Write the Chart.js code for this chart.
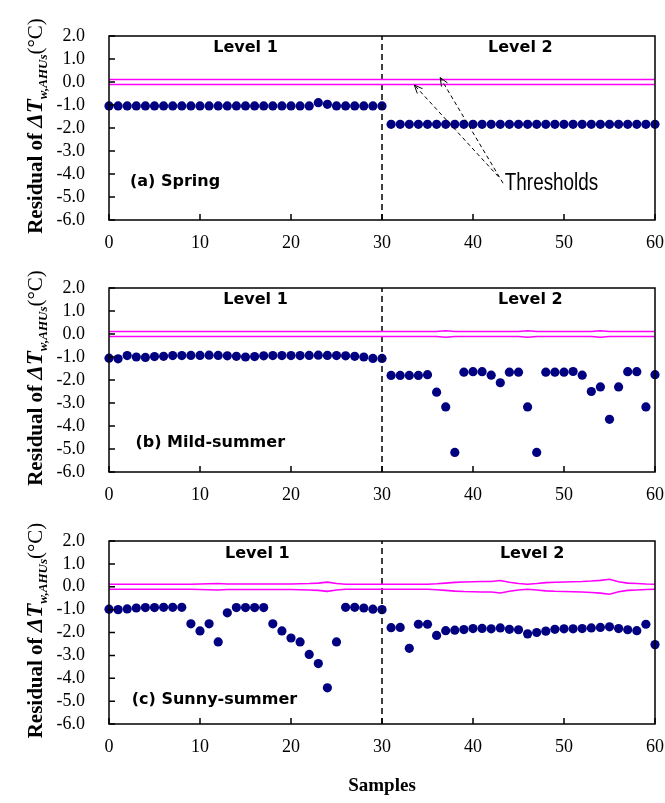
<!DOCTYPE html>
<html>
<head>
<meta charset="utf-8">
<script src="https://cdn.jsdelivr.net/npm/chart.js@4.4.1/dist/chart.umd.min.js"></script>
<style>
  body { margin: 0; background: #fff; }
  canvas { display: block; }
</style>
</head>
<body>
<canvas id="c1" width="665" height="252"></canvas>
<canvas id="c2" width="665" height="252"></canvas>
<canvas id="c3" width="665" height="299"></canvas>
<script>
/* residual panels */

const xTicks = [0, 10, 20, 30, 40, 50, 60];
const yTicks = [2, 1, 0, -1, -2, -3, -4, -5, -6];
const levelNames = ['Level 1', 'Level 2'];
const levelBoundary = 30;
const panelNames = ['(a) Spring', '(b) Mild-summer', '(c) Sunny-summer'];
const calloutText = 'Thresholds';

// residuals, samples 0..60
const springResidual = [
  -1.04, -1.04, -1.04, -1.04, -1.04, -1.04, -1.04, -1.04, -1.04, -1.04,
  -1.04, -1.04, -1.04, -1.04, -1.04, -1.04, -1.04, -1.04, -1.04, -1.04,
  -1.04, -1.04, -1.04, -0.90, -0.97, -1.04, -1.04, -1.04, -1.04, -1.04,
  -1.04,
  -1.84, -1.84, -1.84, -1.84, -1.84, -1.84, -1.84, -1.84, -1.84, -1.84,
  -1.84, -1.84, -1.84, -1.84, -1.84, -1.84, -1.84, -1.84, -1.84, -1.84,
  -1.84, -1.84, -1.84, -1.84, -1.84, -1.84, -1.84, -1.84, -1.84, -1.84
];
const mildResidual = [
  -1.05, -1.08, -0.94, -1.00, -1.02, -0.98, -0.97, -0.94, -0.94, -0.93,
  -0.93, -0.92, -0.93, -0.95, -0.97, -1.00, -0.98, -0.95, -0.94, -0.94,
  -0.94, -0.94, -0.93, -0.92, -0.93, -0.94, -0.95, -0.97, -1.00, -1.06,
  -1.06,
  -1.80, -1.80, -1.80, -1.80, -1.77, -2.53, -3.17, -5.15, -1.66, -1.64,
  -1.64, -1.79, -2.12, -1.66, -1.66, -3.17, -5.15, -1.66, -1.66, -1.66,
  -1.63, -1.79, -2.50, -2.30, -3.71, -2.30, -1.64, -1.64, -3.17, -1.77
];
const sunnyResidual = [
  -0.98, -1.00, -0.97, -0.93, -0.91, -0.91, -0.90, -0.90, -0.90, -1.62,
  -1.93, -1.62, -2.41, -1.14, -0.91, -0.91, -0.91, -0.91, -1.62, -1.93,
  -2.24, -2.41, -2.96, -3.36, -4.42, -2.41, -0.90, -0.90, -0.93, -0.98,
  -1.00,
  -1.79, -1.78, -2.69, -1.64, -1.64, -2.13, -1.92, -1.90, -1.87, -1.83,
  -1.82, -1.84, -1.80, -1.86, -1.88, -2.06, -2.00, -1.94, -1.86, -1.84,
  -1.84, -1.83, -1.80, -1.78, -1.75, -1.83, -1.88, -1.92, -1.64, -2.53
];

// thresholds, samples 0..60
const springUpper = [
  0.11, 0.11, 0.11, 0.11, 0.11, 0.11, 0.11, 0.11, 0.11, 0.11,
  0.11, 0.11, 0.11, 0.11, 0.11, 0.11, 0.11, 0.11, 0.11, 0.11,
  0.11, 0.11, 0.11, 0.11, 0.11, 0.11, 0.11, 0.11, 0.11, 0.11,
  0.11, 0.11, 0.11, 0.11, 0.11, 0.11, 0.11, 0.11, 0.11, 0.11,
  0.11, 0.11, 0.11, 0.11, 0.11, 0.11, 0.11, 0.11, 0.11, 0.11,
  0.11, 0.11, 0.11, 0.11, 0.11, 0.11, 0.11, 0.11, 0.11, 0.11,
  0.11
];
const springLower = [
  -0.11, -0.11, -0.11, -0.11, -0.11, -0.11, -0.11, -0.11, -0.11, -0.11,
  -0.11, -0.11, -0.11, -0.11, -0.11, -0.11, -0.11, -0.11, -0.11, -0.11,
  -0.11, -0.11, -0.11, -0.11, -0.11, -0.11, -0.11, -0.11, -0.11, -0.11,
  -0.11, -0.11, -0.11, -0.11, -0.11, -0.11, -0.11, -0.11, -0.11, -0.11,
  -0.11, -0.11, -0.11, -0.11, -0.11, -0.11, -0.11, -0.11, -0.11, -0.11,
  -0.11, -0.11, -0.11, -0.11, -0.11, -0.11, -0.11, -0.11, -0.11, -0.11,
  -0.11
];
const mildUpper = [
  0.11, 0.11, 0.11, 0.11, 0.11, 0.11, 0.11, 0.11, 0.11, 0.11,
  0.11, 0.11, 0.11, 0.11, 0.11, 0.11, 0.11, 0.11, 0.11, 0.11,
  0.11, 0.11, 0.11, 0.11, 0.11, 0.11, 0.11, 0.11, 0.11, 0.11,
  0.11, 0.11, 0.11, 0.11, 0.11, 0.11, 0.11, 0.14, 0.11, 0.11,
  0.11, 0.11, 0.11, 0.11, 0.11, 0.11, 0.14, 0.11, 0.11, 0.11,
  0.11, 0.11, 0.11, 0.11, 0.14, 0.11, 0.11, 0.11, 0.11, 0.11,
  0.11
];
const mildLower = [
  -0.11, -0.11, -0.11, -0.11, -0.11, -0.11, -0.11, -0.11, -0.11, -0.11,
  -0.11, -0.11, -0.11, -0.11, -0.11, -0.11, -0.11, -0.11, -0.11, -0.11,
  -0.11, -0.11, -0.11, -0.11, -0.11, -0.11, -0.11, -0.11, -0.11, -0.11,
  -0.11, -0.11, -0.11, -0.11, -0.11, -0.11, -0.11, -0.14, -0.11, -0.11,
  -0.11, -0.11, -0.11, -0.11, -0.11, -0.11, -0.14, -0.11, -0.11, -0.11,
  -0.11, -0.11, -0.11, -0.11, -0.14, -0.11, -0.11, -0.11, -0.11, -0.11,
  -0.11
];
const sunnyUpper = [
  0.11, 0.11, 0.11, 0.11, 0.11, 0.11, 0.11, 0.11, 0.11, 0.11,
  0.12, 0.13, 0.14, 0.12, 0.12, 0.12, 0.12, 0.12, 0.12, 0.12,
  0.12, 0.13, 0.14, 0.16, 0.20, 0.14, 0.11, 0.11, 0.11, 0.11,
  0.11, 0.11, 0.11, 0.11, 0.11, 0.11, 0.13, 0.16, 0.19, 0.21,
  0.22, 0.23, 0.23, 0.27, 0.20, 0.14, 0.11, 0.14, 0.18, 0.20,
  0.21, 0.22, 0.23, 0.25, 0.28, 0.33, 0.22, 0.16, 0.14, 0.12,
  0.11
];
const sunnyLower = [
  -0.11, -0.11, -0.11, -0.11, -0.11, -0.11, -0.11, -0.11, -0.11, -0.11,
  -0.12, -0.13, -0.14, -0.12, -0.12, -0.12, -0.12, -0.12, -0.12, -0.12,
  -0.12, -0.13, -0.14, -0.16, -0.20, -0.14, -0.11, -0.11, -0.11, -0.11,
  -0.11, -0.11, -0.11, -0.11, -0.11, -0.11, -0.13, -0.16, -0.19, -0.21,
  -0.22, -0.23, -0.23, -0.27, -0.20, -0.14, -0.11, -0.14, -0.18, -0.20,
  -0.21, -0.22, -0.23, -0.25, -0.28, -0.33, -0.22, -0.16, -0.14, -0.12,
  -0.11
];

const SERIF = '"Liberation Serif", "Times New Roman", serif';
const SANS_BOLD = 'bold 16px "DejaVu Sans", Verdana, sans-serif';

function toPoints(arr) {
    return arr.map((v, i) => ({ x: i, y: v }));
}

// draws box, inner ticks, labels, y title, callout
const decor = {
    id: 'decor',
    afterDraw(chart, args, o) {
        const ctx = chart.ctx;
        const a = chart.chartArea;
        const x = chart.scales.x, y = chart.scales.y;
        ctx.save();

        ctx.strokeStyle = '#000';
        ctx.lineWidth = 1.5;
        ctx.strokeRect(a.left, a.top, a.right - a.left, a.bottom - a.top);
        ctx.beginPath();
        y.ticks.forEach(t => {
            const py = y.getPixelForValue(t.value);
            ctx.moveTo(a.left, py);
            ctx.lineTo(a.left + 6, py);
        });
        x.ticks.forEach(t => {
            const px = x.getPixelForValue(t.value);
            ctx.moveTo(px, a.bottom);
            ctx.lineTo(px, a.bottom - 6);
        });
        ctx.stroke();

        ctx.fillStyle = '#000';
        ctx.font = SANS_BOLD;
        ctx.textBaseline = 'middle';
        ctx.textAlign = 'center';
        levelNames.forEach((n, i) => {
            ctx.fillText(n, x.getPixelForValue(o.levelX[i]), y.getPixelForValue(o.levelY));
        });
        ctx.textAlign = 'left';
        ctx.fillText(o.name, x.getPixelForValue(o.nameX), y.getPixelForValue(o.nameY));

        // y axis title, rich text
        const parts = [
            ['Residual of ', 'bold 21px ' + SERIF, 0],
            ['\u0394T', 'italic bold 23px ' + SERIF, 0],
            ['w,AHUs', 'italic bold 13px ' + SERIF, 5],
            ['(\u00B0C)', '21px ' + SERIF, 0]
        ];
        ctx.save();
        ctx.translate(42, (a.top + a.bottom) / 2 - 2);
        ctx.rotate(-Math.PI / 2);
        ctx.textBaseline = 'alphabetic';
        let total = 0;
        parts.forEach(p => { ctx.font = p[1]; total += ctx.measureText(p[0]).width; });
        let cx = -total / 2;
        parts.forEach(p => {
            ctx.font = p[1];
            ctx.fillText(p[0], cx, p[2]);
            cx += ctx.measureText(p[0]).width;
        });
        ctx.restore();

        if (o.callout) {
            const c = o.callout;
            ctx.save();
            ctx.translate(x.getPixelForValue(c.textX), y.getPixelForValue(c.textY));
            ctx.scale(0.82, 1);
            ctx.font = '23px "Liberation Sans", Arial, sans-serif';
            ctx.textBaseline = 'middle';
            ctx.fillText(calloutText, 0, 0);
            ctx.restore();
            ctx.lineWidth = 1;
            c.arrows.forEach(ar => {
                const x0 = x.getPixelForValue(ar[0]), y0 = y.getPixelForValue(ar[1]);
                const x1 = x.getPixelForValue(ar[2]), y1 = y.getPixelForValue(ar[3]);
                ctx.setLineDash([4, 3]);
                ctx.beginPath();
                ctx.moveTo(x0, y0);
                ctx.lineTo(x1, y1);
                ctx.stroke();
                ctx.setLineDash([]);
                const ang = Math.atan2(y1 - y0, x1 - x0);
                ctx.beginPath();
                ctx.moveTo(x1 - 9 * Math.cos(ang - 0.4), y1 - 9 * Math.sin(ang - 0.4));
                ctx.lineTo(x1, y1);
                ctx.lineTo(x1 - 9 * Math.cos(ang + 0.4), y1 - 9 * Math.sin(ang + 0.4));
                ctx.stroke();
            });
        }
        ctx.restore();
    }
};

function makePanel(id, residual, upper, lower, deco, padTop, xHeight, showTitle) {
    return new Chart(document.getElementById(id), {
        type: 'scatter',
        data: {
            datasets: [
                {
                    data: toPoints(upper), showLine: true, pointRadius: 0,
                    borderColor: '#ff00ff', borderWidth: 1.6, tension: 0
                },
                {
                    data: toPoints(lower), showLine: true, pointRadius: 0,
                    borderColor: '#ff00ff', borderWidth: 1.6, tension: 0
                },
                {
                    data: [{ x: levelBoundary, y: yTicks[yTicks.length - 1] }, { x: levelBoundary, y: yTicks[0] }],
                    showLine: true, pointRadius: 0,
                    borderColor: '#000', borderWidth: 1.5, borderDash: [6, 4]
                },
                {
                    data: toPoints(residual), pointRadius: 4.6,
                    backgroundColor: '#000080', borderColor: '#000080', borderWidth: 0,
                    clip: false
                }
            ]
        },
        options: {
            responsive: false,
            animation: false,
            events: [],
            layout: { padding: { top: padTop, right: 10, left: 0, bottom: 0 } },
            plugins: {
                legend: { display: false },
                tooltip: { enabled: false },
                decor: deco
            },
            scales: {
                x: {
                    type: 'linear', min: 0, max: 60,
                    afterFit: s => { s.height = xHeight; s.paddingLeft = 0; s.paddingRight = 0; },
                    afterBuildTicks: s => { s.ticks = xTicks.map(v => ({ value: v })); },
                    grid: { display: false, drawTicks: false },
                    border: { display: false },
                    ticks: {
                        autoSkip: false, maxRotation: 0, padding: 12, color: '#000',
                        font: { family: SERIF, size: 18 }
                    },
                    title: {
                        display: showTitle, text: 'Samples', color: '#000',
                        font: { family: SERIF, size: 19, weight: 'bold' },
                        padding: { top: 0, bottom: 6 }
                    }
                },
                y: {
                    type: 'linear', min: -6, max: 2,
                    afterFit: s => { s.width = 109; s.paddingTop = 0; s.paddingBottom = 0; },
                    afterBuildTicks: s => { s.ticks = yTicks.map(v => ({ value: v })); },
                    grid: { display: false, drawTicks: false },
                    border: { display: false },
                    ticks: {
                        autoSkip: false, padding: 24, color: '#000',
                        font: { family: SERIF, size: 18 },
                        callback: v => v.toFixed(1)
                    }
                }
            }
        },
        plugins: [decor]
    });
}

makePanel('c1', springResidual, springUpper, springLower, {
    levelX: [15, 45.2], levelY: 1.48,
    name: panelNames[0], nameX: 2.3, nameY: -4.35,
    callout: {
        textX: 43.5, textY: -4.43,
        arrows: [[42.8, -4.12, 33.55, -0.13], [43.3, -4.4, 36.4, 0.19]]
    }
}, 36, 32, false);

makePanel('c2', mildResidual, mildUpper, mildLower, {
    levelX: [16.1, 46.3], levelY: 1.49,
    name: panelNames[1], nameX: 2.9, nameY: -4.74
}, 36, 32, false);

makePanel('c3', sunnyResidual, sunnyUpper, sunnyLower, {
    levelX: [16.3, 46.5], levelY: 1.46,
    name: panelNames[2], nameX: 2.5, nameY: -4.94
}, 37, 79, true);
</script>
</body>
</html>
